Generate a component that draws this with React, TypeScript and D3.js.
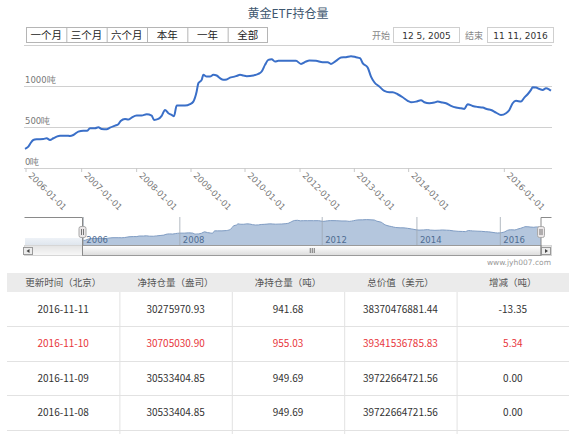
import React from "react";
import * as d3 from "d3";

// ordinal observation position along the x axis and holdings (tonnes)
const obs = [0,10,20,25,35,55,65,75,85,95,105,125,135,145,160,175,187,195,210,220,230,245,255,270,280,287,300,310,320,335,350,365,380,387,400,410,420,430,440,447,455,465,480,495,505,515,520,530,535,545,555,565,575,585,595,605,615,625,635,645,655,665,685,700,710,720,730,740,750,760,775,795,813,828,843,853,873,893,908,918,933,948,963,978,993,1005,1013,1028,1038,1048,1063,1078,1093,1103,1118,1133,1148,1158,1173,1188,1198,1213,1228,1238,1253,1263,1278,1293,1308,1318,1328,1343,1358,1373,1388,1398,1413,1428,1443,1453,1463,1473,1488,1498,1508,1518,1523,1533,1543,1553,1563,1573,1578];
const tons = [229,257,319,339,347,351,360,339,360,380,392,392,388,400,441,453,453,482,482,494,474,470,490,515,531,572,596,588,613,637,637,653,637,584,596,633,706,666,645,629,759,759,759,776,808,931,1033,1074,1135,1114,1114,1135,1127,1094,1074,1078,1102,1110,1122,1135,1127,1118,1127,1147,1176,1257,1318,1326,1298,1306,1306,1306,1306,1269,1298,1310,1306,1290,1290,1269,1306,1347,1351,1363,1351,1339,1278,1225,1114,1045,992,939,923,923,898,861,817,800,808,825,800,788,796,808,796,788,755,735,727,719,776,755,743,735,714,706,674,645,666,706,788,817,808,857,898,951,984,980,963,951,971,955,942];

const xTickObs = [3,170,335,498,660,825,988,1151,1438];
const xTickLabels = ["2006-01-01","2007-01-01","2008-01-01","2009-01-01","2010-01-01","2012-01-01","2013-01-01","2014-01-01","2016-01-01"];
const yTicks = [0,500,1000,1500];
const yTickLabels = ["0吨","500吨","1000吨",""];
const navTickObs = [3,335,825,1151,1438];
const navTickLabels = ["2006","2008","2012","2014","2016"];

const rangeButtons = ["一个月","三个月","六个月","本年","一年","全部"];
const startDate = "12 5, 2005";
const endDate = "11 11, 2016";

const tableHeaders = ["更新时间（北京）","净持仓量（盎司）","净持仓量（吨）","总价值（美元）","增减（吨）"];
const dates = ["2016-11-11","2016-11-10","2016-11-09","2016-11-08"];
const ounces = ["30275970.93","30705030.90","30533404.85","30533404.85"];
const tonnes = ["941.68","955.03","949.69","949.69"];
const totalUsd = ["38370476881.44","39341536785.83","39722664721.56","39722664721.56"];
const changes = ["-13.35","5.34","0.00","0.00"];
const highlightRow = 1;

const CJK = "'Noto Sans CJK SC', 'Noto Sans', sans-serif";
const LAT = "'DejaVu Sans', Verdana, sans-serif";

export default function App() {
  const data = d3.zip(obs, tons) as [number, number][];
  const x = d3.scaleLinear().domain([0, 1578]).range([25, 551]);
  const y = d3.scaleLinear().domain([0, 1500]).range([167.7, 45]);
  const nx = d3.scaleLinear().domain([0, 1578]).range([82.5, 541]);
  const ny = d3.scaleLinear().domain([0, 1450]).range([245, 218]);

  const line = d3.line<[number, number]>().x(d => x(d[0])).y(d => y(d[1])).curve(d3.curveMonotoneX);
  const navArea = d3.area<[number, number]>().x(d => nx(d[0])).y0(245).y1(d => ny(d[1])).curve(d3.curveMonotoneX);
  const navLine = d3.line<[number, number]>().x(d => nx(d[0])).y(d => ny(d[1])).curve(d3.curveMonotoneX);

  const btn = d3.scaleBand<string>().domain(rangeButtons).range([26, 268]);

  const colX = d3.scaleBand<number>().domain(d3.range(5)).range([7, 569]);
  const rowY = d3.scaleLinear().domain([0, 1]).range([292, 326.4]);
  const rows = d3.range(dates.length).map(i => [dates[i], ounces[i], tonnes[i], totalUsd[i], changes[i]]);

  const thumbL = nx(0), thumbR = nx(1578);
  const thumbC = (thumbL + thumbR) / 2;

  return (
    <div style={{ position: "absolute", left: 0, top: 0 }}>
      <svg width={576} height={434} style={{ display: "block", background: "#fff" }}>
        <defs>
          <linearGradient id="thumb" x1="0" y1="0" x2="0" y2="1">
            <stop offset="0" stopColor="#ffffff" />
            <stop offset="1" stopColor="#dcdcdc" />
          </linearGradient>
          <linearGradient id="track" x1="0" y1="0" x2="0" y2="1">
            <stop offset="0" stopColor="#e4e4e4" />
            <stop offset="1" stopColor="#f8f8f8" />
          </linearGradient>
          <linearGradient id="mask" x1="0" y1="0" x2="0" y2="1">
            <stop offset="0" stopColor="#eef2f7" />
            <stop offset="1" stopColor="#dfe6ee" />
          </linearGradient>
        </defs>

        {/* title */}
        <text x={288} y={18} textAnchor="middle" fontFamily={CJK} fontSize={12} fill="#3E576F">黄金ETF持仓量</text>

        {/* range selector buttons */}
        <rect x={26.5} y={27.5} width={241} height={15} fill="#fff" stroke="#b5b5b5" />
        {rangeButtons.map((b, i) => (
          <g key={b}>
            {i > 0 && <line x1={btn(b)! + 0.5} x2={btn(b)! + 0.5} y1={27.5} y2={42.5} stroke="#b5b5b5" />}
            <text x={btn(b)! + btn.bandwidth() / 2} y={39} textAnchor="middle" fontFamily={CJK} fontSize={10.5} fill="#222">{b}</text>
          </g>
        ))}

        {/* date inputs */}
        <text x={372} y={39} fontFamily={CJK} fontSize={9} fill="#888">开始</text>
        <rect x={393.5} y={27.5} width={66} height={15} fill="#fff" stroke="#cfcfcf" />
        <text x={426.5} y={39} textAnchor="middle" fontFamily={LAT} fontSize={9} fill="#333">{startDate}</text>
        <text x={465} y={39} fontFamily={CJK} fontSize={9} fill="#888">结束</text>
        <rect x={487.5} y={27.5} width={66} height={15} fill="#fff" stroke="#cfcfcf" />
        <text x={520.5} y={39} textAnchor="middle" fontFamily={LAT} fontSize={9} fill="#333">{endDate}</text>

        {/* grid */}
        {yTicks.map((t, i) => (
          <g key={t}>
            <line x1={24} x2={552} y1={Math.round(y(t)) + 0.5} y2={Math.round(y(t)) + 0.5} stroke="#d0d0d0" strokeWidth={1} />
            {yTickLabels[i] && (
              <text x={25} y={y(t) - 3} fontFamily={LAT} fontSize={8.5} fill="#777">{yTickLabels[i]}</text>
            )}
          </g>
        ))}

        {/* x ticks and labels */}
        {xTickObs.map((o, i) => (
          <g key={o}>
            <line x1={x(o)} x2={x(o)} y1={168} y2={172} stroke="#c8c8c8" />
            <text transform={`translate(${x(o) + 2},${176}) rotate(45)`} fontFamily={LAT} fontSize={8.5} fill="#777">{xTickLabels[i]}</text>
          </g>
        ))}

        {/* main series */}
        <path d={line(data)!} fill="none" stroke="#3a6fc8" strokeWidth={2} strokeLinejoin="round" />

        {/* navigator */}
        <rect x={25} y={238} width={nx(0) - 25} height={7} fill="url(#mask)" />
        <path d={navArea(data)!} fill="#b4c6dd" />
        <path d={navLine(data)!} fill="none" stroke="#7f9cc3" strokeWidth={1} />
        {navTickObs.map((o, i) => (
          <g key={o}>
            <line x1={nx(o)} x2={nx(o)} y1={217} y2={245} stroke="#a0a8b2" strokeWidth={0.8} />
            <text x={nx(o) + 3} y={243} fontFamily={LAT} fontSize={8.5} fill="#4f6d92">{navTickLabels[i]}</text>
          </g>
        ))}

        {/* scrollbar */}
        <rect x={24.5} y={245.5} width={527} height={10} fill="url(#track)" stroke="#d6d6d6" />
        <rect x={thumbL} y={245.5} width={thumbR - thumbL} height={10} fill="url(#thumb)" stroke="#9a9a9a" />
        {[-2, 0, 2].map(d => (
          <line key={d} x1={thumbC + d + 0.5} x2={thumbC + d + 0.5} y1={248} y2={253} stroke="#555" strokeWidth={0.8} />
        ))}
        <rect x={23.5} y={247.5} width={9} height={7} fill="#ececec" stroke="#9a9a9a" />
        <path d="M29.5,249 L26.5,251 L29.5,253 Z" fill="#444" />
        <rect x={541.5} y={247.5} width={9} height={7} fill="#ececec" stroke="#9a9a9a" />
        <path d="M545,249 L548,251 L545,253 Z" fill="#444" />

        {/* navigator outline */}
        <path d={`M24.5,217.5 H${thumbL} V255.5 M${thumbR},255.5 V217.5 H551.5`} fill="none" stroke="#8a8a8a" strokeWidth={1} />
        {[thumbL, thumbR].map((hx, i) => (
          <g key={i}>
            <rect x={hx - 3.5} y={226.5} width={7} height={11} rx={2} fill="#ebe7e8" stroke="#a9a9a9" />
            <line x1={hx - 1} x2={hx - 1} y1={229} y2={235} stroke="#444" strokeWidth={0.7} />
            <line x1={hx + 1} x2={hx + 1} y1={229} y2={235} stroke="#444" strokeWidth={0.7} />
          </g>
        ))}

        <text x={551} y={265} textAnchor="end" fontFamily={LAT} fontSize={7.5} fill="#999">www.jyh007.com</text>

        {/* table */}
        <rect x={7} y={273} width={562} height={19} fill="#ebebeb" />
        {tableHeaders.map((h, i) => (
          <text key={h} x={colX(i)! + colX.bandwidth() / 2} y={286} textAnchor="middle" fontFamily={CJK} fontSize={9.5} fill="#555">{h}</text>
        ))}
        {d3.range(1, 5).map(i => (
          <line key={i} x1={colX(i)! + 0.5} x2={colX(i)! + 0.5} y1={292} y2={434} stroke="#e2e2e2" />
        ))}
        {rows.map((r, ri) => (
          <g key={ri}>
            <line x1={7} x2={569} y1={Math.round(rowY(ri + 1)) + 0.5} y2={Math.round(rowY(ri + 1)) + 0.5} stroke="#e2e2e2" />
            {r.map((c, ci) => (
              <text key={ci} x={colX(ci)! + colX.bandwidth() / 2} y={(rowY(ri) + rowY(ri + 1)) / 2 + 3.5} textAnchor="middle"
                fontFamily={CJK} fontSize={10} fill={ri === highlightRow ? "#e8363c" : "#333"}>{c}</text>
            ))}
          </g>
        ))}
      </svg>
    </div>
  );
}
